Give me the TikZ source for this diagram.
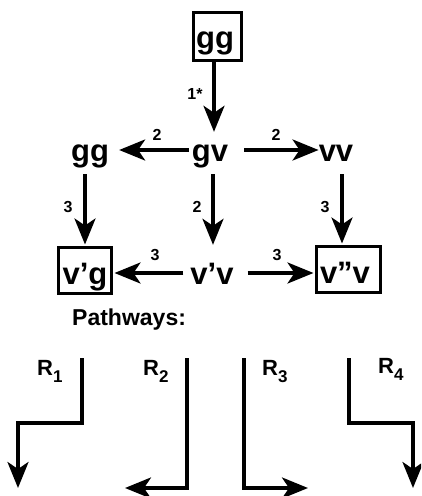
\documentclass[tikz,border=0pt]{standalone}
\usepackage{fontspec}
\setmainfont{Liberation Sans}
\usetikzlibrary{arrows.meta}
\tikzset{
  arr/.style={line width=3.5pt,-{Stealth[length=26pt,width=21pt,inset=7pt]}},
  path arr/.style={line width=3.5pt,-{Stealth[length=26pt,width=21pt,inset=7pt]}},
  big/.style={inner sep=0pt,anchor=base,text height=22pt,text depth=0pt,font=\fontsize{31}{31}\selectfont\bfseries},
  rbox/.style={draw,line width=3pt,inner sep=0pt},
  num/.style={inner sep=0pt,font=\fontsize{16}{16}\selectfont\bfseries},
  rlab/.style={inner sep=0pt,anchor=base west,font=\fontsize{22}{22}\selectfont\bfseries},
  pw/.style={inner sep=0pt,anchor=base west,font=\fontsize{23}{23}\selectfont\bfseries}
}
\newcommand{\rsub}[1]{\raisebox{-7pt}{\fontsize{17}{17}\selectfont #1}}
\begin{document}
\begin{tikzpicture}[x=1pt,y=-1pt]
\useasboundingbox (0,0) rectangle (421,496);
\clip (0,0) rectangle (421,496);
% boxes
\node[rbox,minimum width=48pt,minimum height=48pt] (topbox) at (217,36.5) {};
\node[rbox,minimum width=53pt,minimum height=46pt] (vgbox) at (85,270.5) {};
\node[rbox,minimum width=64pt,minimum height=46pt] (vvbox) at (348.5,269.5) {};
% texts
\node[big] (gg0) at (215,48) {gg};
\node[big] (gg) at (90,161) {gg};
\node[big] (gv) at (210,161) {gv};
\node[big] (vv) at (336,161) {vv};
\node[big] (vpg) at (85,284) {v’g};
\node[big] (vpv) at (212,284) {v’v};
\node[big] (vppv) at (345,283) {v”v};
% arrows
\draw[arr] ([xshift=-3pt]topbox.south) -- ([xshift=-3pt]topbox.south |- gv.north) [shorten >=7pt];
\draw[arr,shorten <=3pt,shorten >=10pt] (gv.west) -- (gg.east);
\draw[arr,shorten <=16pt] (gv.east) -- (vv.west);
\draw[arr,shorten <=13pt,shorten >=1.5pt] (vgbox.north |- gg.south) -- (vgbox.north);
\draw[arr,shorten <=13pt,shorten >=17pt] ([xshift=3pt]gv.south) -- ([xshift=1pt]vpv.north);
\draw[arr,shorten <=13pt,shorten >=1.5pt] ([xshift=6pt]vv.south) -- ([xshift=-6.5pt]vvbox.north);
\draw[arr,shorten <=7pt,shorten >=1.5pt] (vpv.west) -- (vpv.west -| vgbox.east);
\draw[arr,shorten <=14pt,shorten >=1.5pt] (vpv.east) -- (vpv.east -| vvbox.west);
% numbers
\node[num] (l1) at (195,94) {1*};
\node[num] (l2a) at (157,135) {2};
\node[num] (l2b) at (276,135) {2};
\node[num] (l3a) at (68,207) {3};
\node[num] (l2c) at (197,207) {2};
\node[num] (l3b) at (325,207) {3};
\node[num] (l3c) at (155,255) {3};
\node[num] (l3d) at (277,255) {3};
% pathways
\node[pw] (pathways) at (72,325) {Pathways:};
\node[rlab] (R1) at (37,375) {R\rsub{1}};
\node[rlab] (R2) at (143,375) {R\rsub{2}};
\node[rlab] (R3) at (262,375) {R\rsub{3}};
\node[rlab] (R4) at (378,373) {R\rsub{4}};
\coordinate (r1) at (82,358);
\coordinate (r2) at (187,358);
\coordinate (r3) at (244,358);
\coordinate (r4) at (349,358);
\draw[path arr] (r1) |- ++(-64,65) -- ++(0,65);
\draw[path arr] (r2) |- ++(-62,130);
\draw[path arr] (r3) |- ++(64,130);
\draw[path arr] (r4) |- ++(64,65) -- ++(0,65);
\end{tikzpicture}
\end{document}
